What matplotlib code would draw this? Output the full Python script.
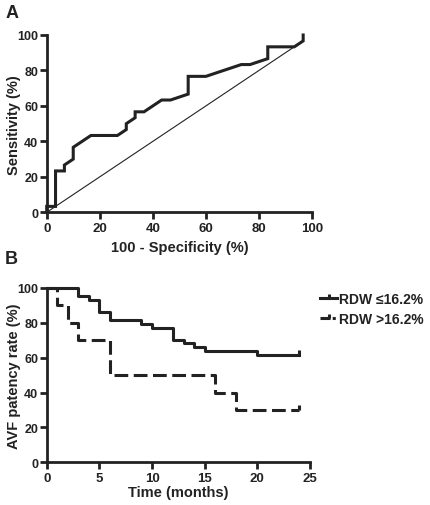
import matplotlib
matplotlib.use("Agg")
import matplotlib.pyplot as plt
from matplotlib.path import Path
from matplotlib.lines import Line2D

plt.rcParams['font.family'] = ['Liberation Sans', 'DejaVu Sans']
plt.rcParams['font.weight'] = 'bold'

# ---- Panel A: ROC curve ----
roc_fpr = [0, 0, 3.33, 3.33, 6.67, 6.67, 10, 10, 16.67, 26.67, 30, 30, 33.33, 33.33,
           36.67, 43.33, 46.67, 53.33, 53.33, 60, 73.33, 76.67, 83.33, 83.33, 93.33,
           96.67, 96.67]
roc_tpr = [0, 3.33, 3.33, 23.33, 23.33, 26.67, 30, 36.67, 43.33, 43.33, 46.67, 50,
           53.33, 56.67, 56.67, 63.33, 63.33, 66.67, 76.67, 76.67, 83.33, 83.33, 86.67,
           93.33, 93.33, 96.67, 100]
ref_line = [0, 96.67]
roc_ticks = [0, 20, 40, 60, 80, 100]

# ---- Panel B: Kaplan-Meier ----
km_low_t = [0, 3, 4, 5, 6, 9, 10, 12, 13, 14, 15, 20, 24]
km_low_s = [100, 95.45, 93.18, 86.36, 81.82, 79.55, 77.27, 70.45, 68.18, 65.91, 63.64, 61.36, 61.36]
km_high_t = [0, 1, 2, 3, 6, 16, 18, 24]
km_high_s = [100, 90, 80, 70, 50, 40, 30, 30]
km_xticks = [0, 5, 10, 15, 20, 25]
km_yticks = [0, 20, 40, 60, 80, 100]
labels = ['RDW \u226416.2%', 'RDW >16.2%']

W, H = 430, 506
fig = plt.figure(figsize=(W / 100, H / 100), dpi=100)
col = '#222222'
lw = 2.2
spw = 2.0
lab_fs = 10.5

def style(ax):
    for s in ['top', 'right']:
        ax.spines[s].set_visible(False)
    for s in ['left', 'bottom']:
        ax.spines[s].set_linewidth(spw)
        ax.spines[s].set_color(col)
    ax.tick_params(direction='out', length=5, width=spw, color=col, labelcolor=col)
    ax.tick_params(axis='x', labelsize=9.5, pad=2)
    ax.tick_params(axis='y', labelsize=9, pad=1)
    for t in ax.get_xticklabels() + ax.get_yticklabels():
        t.set_fontweight('bold')

def labels_at(ax, xl, yl, ylab_x, xlab_y):
    t = ax.set_xlabel(xl, fontsize=lab_fs, fontweight='bold', color=col)
    t.set_verticalalignment('center')
    ax.xaxis.set_label_coords(0.5, xlab_y)
    t = ax.set_ylabel(yl, fontsize=lab_fs, fontweight='bold', color=col)
    t.set_verticalalignment('center')
    ax.yaxis.set_label_coords(ylab_x, 0.5)

axA = fig.add_axes([46.7 / W, 1 - 213.3 / H, 265.3 / W, 177.3 / H])
axA.plot(ref_line, ref_line, color=col, lw=0.8, clip_on=False)
axA.plot(roc_fpr, roc_tpr, color=col, lw=lw, clip_on=False, solid_joinstyle='miter')
axA.set_xlim(0, 100)
axA.set_ylim(0, 100)
axA.set_xticks(roc_ticks)
axA.set_yticks(roc_ticks)
style(axA)
labels_at(axA, '100 - Specificity (%)', 'Sensitivity (%)', -0.125, -0.196)
fig.text(6 / W, 1 - 5 / H, 'A', fontsize=13, fontweight='bold', color=col, va='top', ha='left')

# censor tick marker (vertical line upward)
tick_marker = Path([(0, 0), (0, 1)], [Path.MOVETO, Path.LINETO])

axB = fig.add_axes([46.7 / W, 1 - 463.3 / H, 263.3 / W, 174.3 / H])
axB.step(km_low_t, km_low_s, where='post', color=col, lw=lw, clip_on=False)
axB.step(km_high_t, km_high_s, where='post', color=col, lw=lw, clip_on=False,
         dashes=(4.5, 1.8))
axB.plot(km_low_t[-1:], km_low_s[-1:], ls='none', marker=tick_marker, ms=7,
         mew=lw, color=col, clip_on=False)
axB.plot(km_high_t[-1:], km_high_s[-1:], ls='none', marker=tick_marker, ms=7,
         mew=lw, color=col, clip_on=False)
axB.set_xlim(0, 25)
axB.set_ylim(0, 100)
axB.set_xticks(km_xticks)
axB.set_yticks(km_yticks)
style(axB)
labels_at(axB, 'Time (months)', 'AVF patency rate (%)', -0.126, -0.170)
fig.text(5 / W, 1 - 251 / H, 'B', fontsize=13, fontweight='bold', color=col, va='top', ha='left')

handles = [
    Line2D([], [], color=col, lw=lw, marker=tick_marker, ms=6, mew=lw),
    Line2D([], [], color=col, lw=lw, dashes=(3.3, 0.7, 1.0, 5), marker=tick_marker,
           ms=6, mew=lw),
]
leg = fig.legend(handles, labels, loc='upper left', bbox_to_anchor=(320 / W, 1 - 293 / H),
                 frameon=False, fontsize=10, handlelength=1.25, handletextpad=0.15,
                 labelspacing=0.4, borderaxespad=0, borderpad=0, numpoints=1)
for t in leg.get_texts():
    t.set_fontweight('bold')
    t.set_color(col)

fig.savefig('out.png', dpi=100)
